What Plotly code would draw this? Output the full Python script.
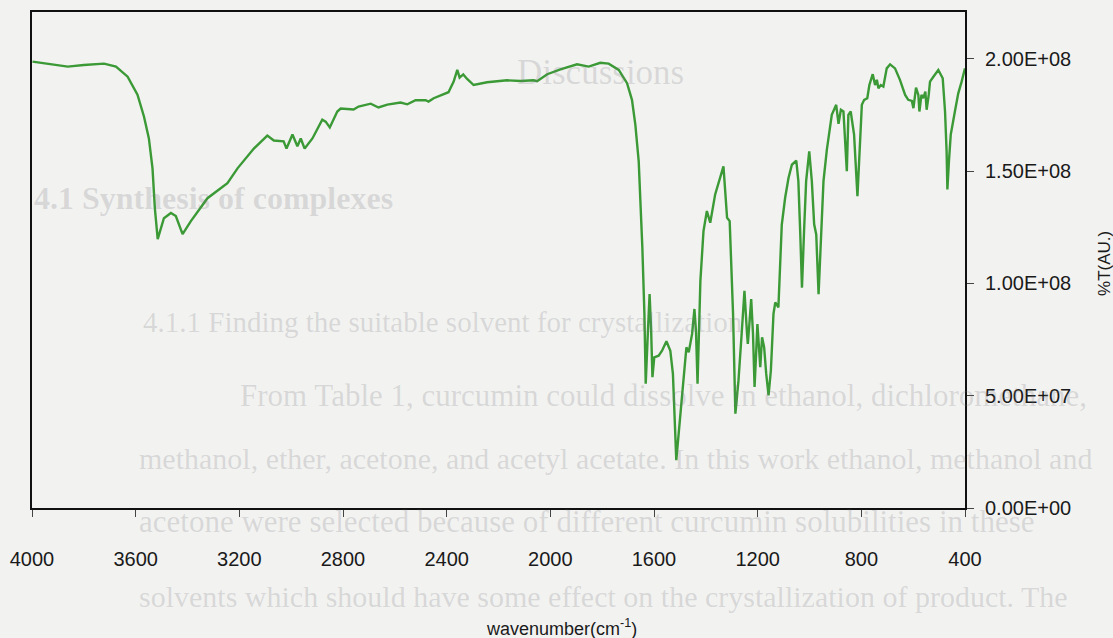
import plotly.graph_objects as go

# IR spectrum: wavenumber (cm-1) and transmittance (units of 1e6, arbitrary)
wavenumber = [
    3998, 3927, 3862, 3800, 3722, 3676, 3631, 3593, 3568, 3549, 3535, 3526,
    3515, 3491, 3464, 3445, 3419, 3387, 3323, 3246, 3207, 3144, 3092, 3067,
    3029, 3018, 2995, 2976, 2963, 2948, 2918, 2880, 2867, 2851, 2822, 2809,
    2759, 2740, 2693, 2663, 2629, 2578, 2552, 2520, 2481, 2470, 2450, 2393,
    2373, 2359, 2350, 2336, 2321, 2296, 2244, 2167, 2115, 2065, 2051, 2012,
    1961, 1897, 1852, 1807, 1775, 1736, 1704, 1685, 1672, 1659, 1653, 1645,
    1637, 1632, 1625, 1617, 1611, 1606, 1599, 1582, 1569, 1552, 1537, 1527,
    1514, 1505, 1488, 1475, 1466, 1453, 1444, 1438, 1432, 1421, 1409, 1396,
    1383, 1364, 1332, 1318, 1308, 1295, 1286, 1274, 1261, 1251, 1241, 1238,
    1231, 1225, 1218, 1212, 1206, 1201, 1195, 1190, 1183, 1175, 1167, 1158,
    1149, 1139, 1132, 1120, 1107, 1094, 1081, 1068, 1051, 1043, 1036, 1029,
    1021, 1013, 1001, 991, 982, 974, 965, 956, 946, 933, 914, 897,
    888, 879, 869, 856, 850, 841, 828, 815, 805, 798, 789, 777,
    769, 756, 747, 740, 734, 725, 715, 702, 689, 670, 651, 631,
    619, 605, 599, 589, 580, 576, 568, 561, 553, 548, 540, 535,
    522, 503, 486, 477, 471, 468, 462, 455, 439, 426, 413, 400,
]
transmittance_e6 = [
    198.7, 197.5, 196.5, 197.2, 197.8, 196.5, 192.0, 184.0, 174.3, 164.5, 151.2, 133.5,
    119.7, 129.0, 131.3, 130.0, 121.9, 127.7, 137.9, 144.6, 151.2, 160.0, 165.8, 163.6,
    163.2, 160.0, 166.3, 161.0, 164.5, 160.0, 164.5, 172.9, 172.0, 169.4, 176.5, 177.8,
    177.4, 178.7, 180.0, 178.3, 179.6, 180.5, 179.7, 181.5, 181.5, 180.9, 182.4, 185.1,
    189.8, 195.0, 191.6, 193.0, 191.0, 188.3, 189.5, 190.4, 190.1, 190.4, 190.0, 193.1,
    195.3, 197.5, 196.5, 198.2, 197.8, 195.0, 189.1, 181.7, 170.7, 154.3, 140.0, 116.0,
    86.4, 55.3, 74.5, 95.2, 78.9, 58.2, 67.1, 67.8, 70.0, 74.2, 70.0, 59.7,
    21.3, 33.1, 56.8, 71.5, 69.3, 77.5, 88.6, 78.9, 55.3, 101.1, 123.3, 132.2,
    127.0, 139.6, 152.1, 129.2, 127.7, 86.4, 42.0, 56.8, 78.9, 96.7, 77.5, 73.0,
    83.4, 93.0, 77.5, 53.9, 68.6, 81.9, 71.5, 62.7, 76.0, 71.5, 59.7, 50.1,
    61.2, 86.4, 91.5, 89.3, 126.0, 138.1, 146.9, 152.8, 154.6, 145.5, 123.3, 98.1,
    123.3, 145.5, 158.8, 145.5, 126.3, 121.8, 95.2, 115.9, 145.5, 159.5, 175.0, 179.5,
    171.0, 177.3, 176.5, 149.9, 175.0, 176.5, 166.2, 138.8, 161.8, 179.5, 181.7, 182.4,
    188.3, 193.1, 188.3, 190.6, 186.8, 188.3, 187.6, 195.7, 197.5, 195.7, 190.6, 183.9,
    181.7, 181.2, 178.0, 187.1, 183.9, 176.5, 183.9, 182.4, 185.4, 177.3, 183.9, 189.8,
    192.0, 195.0, 191.3, 176.5, 158.8, 141.8, 154.3, 166.2, 176.5, 184.6, 189.8, 195.7,
]

x_ticks = [4000, 3600, 3200, 2800, 2400, 2000, 1600, 1200, 800, 400]
y_ticks = [0, 5e7, 1e8, 1.5e8, 2e8]
y_tick_labels = ["0.00E+00", "5.00E+07", "1.00E+08", "1.50E+08", "2.00E+08"]

# faint lines of printed page text lying behind the figure
page_lines = [
    ("Discussions", 0.609, 0.878, "center", 35, False),
    ("4.1 Synthesis of complexes", 0.000, 0.624, "left", 32, True),
    ("4.1.1 Finding the suitable solvent for crystallization", 0.117, 0.375, "left", 29, False),
    ("From Table 1, curcumin could dissolve in ethanol, dichloromethane,", 0.221, 0.227, "left", 31, False),
    ("methanol, ether, acetone, and acetyl acetate. In this work ethanol, methanol and", 0.113, 0.100, "left", 30, False),
    ("acetone were selected because of different curcumin solubilities in these", 0.113, -0.028, "left", 31, False),
    ("solvents which should have some effect on the crystallization of product. The", 0.113, -0.179, "left", 30, False),
]

BG = "#f2f2f1"
SANS = "Liberation Sans, Arial, sans-serif"
SERIF = "Liberation Serif, Times New Roman, serif"

fig = go.Figure()

fig.add_trace(go.Scatter(
    x=wavenumber,
    y=[v * 1e6 for v in transmittance_e6],
    mode="lines",
    line=dict(color="#3b9a36", width=2.4),
    hoverinfo="skip",
    showlegend=False,
))

annotations = []
for text, px, py, anchor, size, bold in page_lines:
    annotations.append(dict(
        text=f"<b>{text}</b>" if bold else text,
        x=px, y=py, xref="paper", yref="paper",
        xanchor=anchor, yanchor="middle", showarrow=False,
        font=dict(family=SERIF, size=size, color="rgba(120,120,125,0.22)"),
    ))

annotations.append(dict(
    text="wavenumber(cm<sup>-1</sup>)",
    x=0.567, y=-0.240, xref="paper", yref="paper",
    xanchor="center", yanchor="middle", showarrow=False,
    font=dict(family=SANS, size=18, color="#1a1a1a"),
))
annotations.append(dict(
    text="%T(AU.)",
    x=1.150, y=0.494, xref="paper", yref="paper",
    xanchor="center", yanchor="middle", showarrow=False, textangle=-90,
    font=dict(family=SANS, size=17, color="#1a1a1a"),
))

fig.update_layout(
    width=1113,
    height=638,
    margin=dict(l=31, r=148, t=10, b=130),
    paper_bgcolor=BG,
    plot_bgcolor=BG,
    annotations=annotations,
    xaxis=dict(
        range=[4000, 400],
        tickvals=x_ticks,
        ticks="outside",
        ticklen=7,
        tickwidth=1,
        tickcolor="#444",
        showline=True,
        linecolor="#111",
        linewidth=2,
        mirror=True,
        showgrid=False,
        zeroline=False,
        tickfont=dict(family=SANS, size=20, color="#1a1a1a"),
        ticklabelstandoff=25,
    ),
    yaxis=dict(
        range=[0, 2.208e8],
        side="right",
        tickvals=y_ticks,
        ticktext=y_tick_labels,
        ticks="outside",
        ticklen=7,
        tickwidth=1,
        tickcolor="#444",
        showline=True,
        linecolor="#111",
        linewidth=2,
        mirror=True,
        showgrid=False,
        zeroline=False,
        tickfont=dict(family=SANS, size=20, color="#1a1a1a"),
        ticklabelstandoff=7,
    ),
)

fig.write_html("out.html")
